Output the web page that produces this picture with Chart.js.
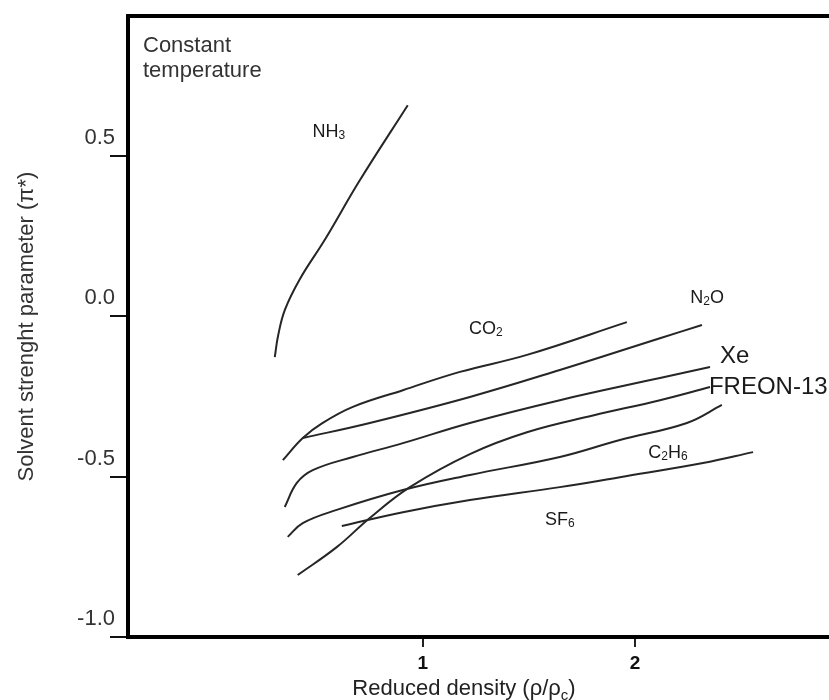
<!DOCTYPE html>
<html>
<head>
<meta charset="utf-8">
<script src="https://cdn.jsdelivr.net/npm/chart.js@4"></script>
<style>
  body { margin: 0; background: #fff; }
  #wrap { width: 829px; height: 700px; }
</style>
</head>
<body>
<div id="wrap"><canvas id="solventChart" width="829" height="700"></canvas></div>
<script>
// Values: reduced density (rho/rho_c) and pi*
const nh3Rho  = [0.302, 0.318, 0.350, 0.420, 0.540, 0.700, 0.929];
const nh3Pi   = [-0.128, -0.060, 0.020, 0.115, 0.240, 0.420, 0.657];

const co2Rho  = [0.340, 0.434, 0.528, 0.670, 0.906, 1.175, 1.491, 1.962];
const co2Pi   = [-0.449, -0.380, -0.333, -0.283, -0.231, -0.174, -0.121, -0.019];

const n2oRho  = [0.434, 0.750, 1.222, 1.646, 2.118, 2.316];
const n2oPi   = [-0.380, -0.333, -0.252, -0.168, -0.069, -0.028];

const xeRho   = [0.349, 0.406, 0.481, 0.670, 0.906, 1.222, 1.646, 2.118, 2.354];
const xePi    = [-0.595, -0.520, -0.480, -0.439, -0.396, -0.333, -0.262, -0.193, -0.159];

const freonRho = [0.410, 0.594, 0.750, 0.939, 1.222, 1.491, 1.802, 2.118, 2.354];
const freonPi  = [-0.807, -0.720, -0.629, -0.533, -0.430, -0.362, -0.310, -0.262, -0.221];

const c2h6Rho = [0.363, 0.434, 0.594, 0.906, 1.222, 1.646, 1.929, 2.245, 2.410];
const c2h6Pi  = [-0.688, -0.645, -0.604, -0.542, -0.495, -0.439, -0.386, -0.333, -0.277];

const sf6Rho  = [0.618, 0.906, 1.222, 1.646, 1.929, 2.321, 2.557];
const sf6Pi   = [-0.654, -0.611, -0.573, -0.533, -0.502, -0.458, -0.424];

// curve labels, placed in data units
const labelNames = ['NH₃', 'CO₂', 'N₂O', 'Xe', 'FREON-13', 'C₂H₆', 'SF₆'];
const labelRho   = [0.557, 1.297, 2.340, 2.401, 2.349, 2.156, 1.646];
const labelPi    = [0.573, -0.040, 0.056, -0.125, -0.221, -0.427, -0.636];

const xTicks = [1, 2];
const yTicks = [-1.0, -0.5, 0.0, 0.5];
const noteLines = ['Constant', 'temperature'];
const xTitle = 'Reduced density (ρ/ρ₍c₎)';
const yTitle = 'Solvent strenght parameter (π*)';

const FONT = 'Arial, "Liberation Sans", sans-serif';
Chart.defaults.font.family = FONT;

function toPoints(xs, ys) {
    return xs.map((v, i) => ({ x: v, y: ys[i] }));
}

const curves = [
    toPoints(nh3Rho, nh3Pi),
    toPoints(co2Rho, co2Pi),
    toPoints(n2oRho, n2oPi),
    toPoints(xeRho, xePi),
    toPoints(freonRho, freonPi),
    toPoints(c2h6Rho, c2h6Pi),
    toPoints(sf6Rho, sf6Pi)
];

// big labels (Xe, FREON-13) are left aligned, the formulas are centered
const bigLabels = ['Xe', 'FREON-13'];
const SUBS = '₀₁₂₃₄₅₆₇₈₉';

// split a string into normal / subscript runs ("₍c₎" marks a subscript letter)
function splitRuns(text) {
    const runs = [];
    let sub = false;
    for (const ch of text) {
        if (ch === '₍') { sub = true; continue; }
        if (ch === '₎') { sub = false; continue; }
        const i = SUBS.indexOf(ch);
        if (i >= 0) runs.push({ t: String(i), sub: true });
        else runs.push({ t: ch, sub: sub });
    }
    return runs;
}

function drawRich(ctx, text, x, y, size, align) {
    const runs = splitRuns(text);
    const subSize = Math.round(size * 0.68);
    const fontFor = r => (r.sub ? subSize : size) + 'px ' + FONT;
    let total = 0;
    runs.forEach(r => { ctx.font = fontFor(r); r.w = ctx.measureText(r.t).width; total += r.w; });
    let cx = align === 'center' ? x - total / 2 : x;
    ctx.textAlign = 'left';
    runs.forEach(r => {
        ctx.font = fontFor(r);
        ctx.fillText(r.t, cx, r.sub ? y + size * 0.22 : y);
        cx += r.w;
    });
}

const extrasPlugin = {
    id: 'extras',
    afterDraw(chart) {
        const { ctx, chartArea: area, scales: { x, y } } = chart;
        ctx.save();

        // top edge of the frame
        ctx.strokeStyle = '#000';
        ctx.lineWidth = 4;
        ctx.beginPath();
        ctx.moveTo(area.left - 2, area.top);
        ctx.lineTo(area.right, area.top);
        ctx.stroke();

        // curve labels
        ctx.fillStyle = '#1a1a1a';
        ctx.textBaseline = 'middle';
        labelNames.forEach((name, i) => {
            const big = bigLabels.includes(name);
            drawRich(ctx, name, x.getPixelForValue(labelRho[i]), y.getPixelForValue(labelPi[i]),
                big ? 24 : 18, big ? 'left' : 'center');
        });

        // note in the corner
        ctx.fillStyle = '#333';
        ctx.font = '22px ' + FONT;
        ctx.textAlign = 'left';
        ctx.textBaseline = 'alphabetic';
        ctx.fillText(noteLines[0], area.left + 15, area.top + 36);
        ctx.fillText(noteLines[1], area.left + 15, area.top + 61);

        // x title with subscript c
        ctx.fillStyle = '#222';
        drawRich(ctx, xTitle, 464, 695, 22, 'center');

        ctx.restore();
    }
};

const ctx = document.getElementById('solventChart').getContext('2d');
const solventChart = new Chart(ctx, {
    type: 'line',
    data: {
        datasets: curves.map(pts => ({
            data: pts,
            borderColor: '#262626',
            borderWidth: 2,
            pointRadius: 0,
            fill: false,
            tension: 0.4
        }))
    },
    options: {
        responsive: false,
        animation: false,
        devicePixelRatio: 1,
        layout: {
            padding: { top: 16, right: 0, bottom: 0, left: 0 }
        },
        plugins: {
            legend: { display: false },
            tooltip: { enabled: false }
        },
        scales: {
            x: {
                type: 'linear',
                min: -0.39,
                max: 2.915,
                afterBuildTicks: scale => {
                    scale.ticks = xTicks.map(v => ({ value: v }));
                },
                afterFit: scale => {
                    scale.height = 63;
                },
                grid: {
                    drawOnChartArea: false,
                    tickLength: 10,
                    tickColor: '#222',
                    lineWidth: 2
                },
                border: {
                    display: true,
                    color: '#000',
                    width: 4
                },
                ticks: {
                    color: '#111',
                    font: { size: 19, weight: 'bold' },
                    padding: 5,
                    maxRotation: 0,
                    autoSkip: false,
                    callback: v => String(v)
                }
            },
            y: {
                min: -1.0,
                max: 0.935,
                afterBuildTicks: scale => {
                    scale.ticks = yTicks.map(v => ({ value: v }));
                },
                afterFit: scale => {
                    scale.width = 128;
                },
                grid: {
                    drawOnChartArea: false,
                    tickLength: 18,
                    tickColor: '#111',
                    lineWidth: 2
                },
                border: {
                    display: true,
                    color: '#000',
                    width: 4
                },
                ticks: {
                    color: '#333',
                    font: { size: 22 },
                    padding: -5,
                    labelOffset: -18,
                    callback: v => Number(v).toFixed(1)
                },
                title: {
                    display: true,
                    text: yTitle,
                    color: '#333',
                    font: { size: 22 },
                    padding: { top: 14, bottom: 0 }
                }
            }
        }
    },
    plugins: [extrasPlugin]
});
</script>
</body>
</html>
